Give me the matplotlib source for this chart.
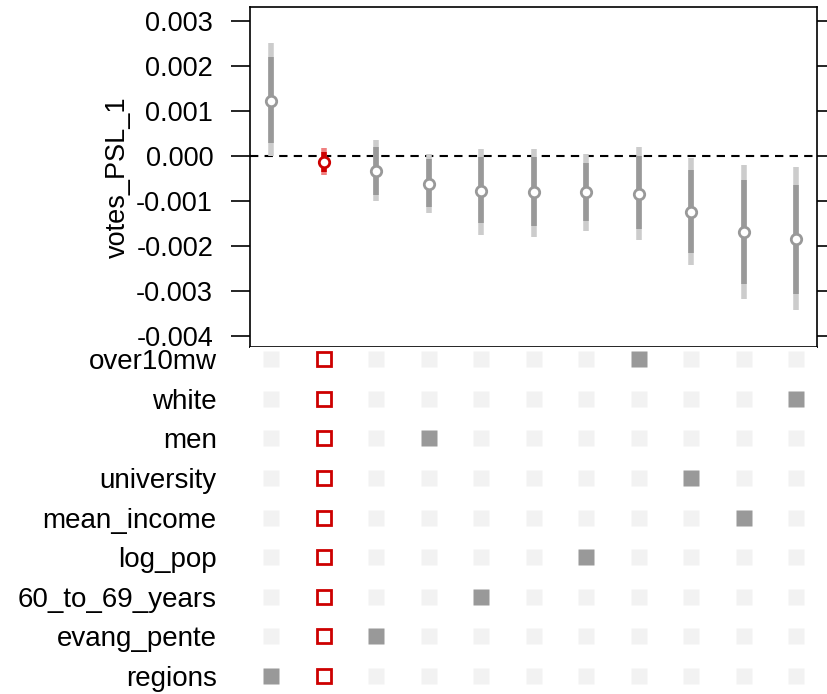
import numpy as np
import matplotlib
matplotlib.use("Agg")
import matplotlib.pyplot as plt

plt.rcParams['font.family'] = ['Liberation Sans', 'DejaVu Sans']

# --- data (values in units of 1e-3) ---
estimate = [1.235, -0.133, -0.327, -0.61, -0.77, -0.81, -0.81, -0.85, -1.25, -1.70, -1.84]
inner_hi = [2.20, 0.10, 0.21, -0.06, -0.01, -0.01, -0.16, 0.01, -0.32, -0.53, -0.64]
inner_lo = [0.29, -0.36, -0.86, -1.13, -1.49, -1.56, -1.45, -1.62, -2.16, -2.84, -3.06]
outer_hi = [2.51, 0.18, 0.36, 0.04, 0.16, 0.16, 0.04, 0.21, -0.04, -0.19, -0.24]
outer_lo = [0.01, -0.42, -0.99, -1.27, -1.75, -1.79, -1.66, -1.86, -2.43, -3.19, -3.43]

controls = ["regions", "evang_pente", "60_to_69_years", "log_pop", "mean_income",
            "university", "men", "white", "over10mw"]
spec_control = ["regions", "all", "evang_pente", "men", "60_to_69_years", "",
                "log_pop", "over10mw", "university", "mean_income", "white"]
highlight = 1  # index of the spec with all controls

yticks = [0.003, 0.002, 0.001, 0.0, -0.001, -0.002, -0.003, -0.004]

# --- colours ---
gray_dark = "#999999"
gray_light = "#cccccc"
red = "#cd0000"
red_light = "#f08080"
cell_off = "#f2f2f2"

fig = plt.figure(figsize=(8.27, 6.94), dpi=100)
ax = fig.add_axes([250 / 827, 0.5, 567 / 827, 1 - 7 / 694 - 0.5])
ax2 = fig.add_axes([250 / 827, 0.0, 567 / 827, 0.5])

x = np.arange(1, len(estimate) + 1)
est = np.array(estimate) * 1e-3

ax.axhline(0, color="black", lw=1.5, ls=(0, (4, 3)), zorder=1)
for i, xi in enumerate(x):
    c_in, c_out = (red, red_light) if i == highlight else (gray_dark, gray_light)
    ax.vlines(xi, outer_lo[i] * 1e-3, outer_hi[i] * 1e-3, color=c_out, lw=4, zorder=2)
    ax.vlines(xi, inner_lo[i] * 1e-3, inner_hi[i] * 1e-3, color=c_in, lw=4, zorder=3)
    ax.plot(xi, est[i], "o", ms=7.5, mfc="white", mec=c_in, mew=2, zorder=4)

ax.set_xlim(0.6, 11.4)
ax.set_ylim(-0.00425, 0.00332)
ax.set_xticks([])
ax.set_yticks(yticks)
ax.set_yticklabels([f"{v:.3f}" for v in yticks])
ax.tick_params(axis="y", which="both", direction="out", length=13.5, width=1.2,
               labelsize=19.5, pad=13, right=True)
ax.set_ylabel("votes_PSL_1", fontsize=19.5, labelpad=4)
for s in ax.spines.values():
    s.set_linewidth(1.2)

# --- specification grid ---
rows = np.arange(len(controls))
for j, xi in enumerate(x):
    for r, name in enumerate(controls):
        if j == highlight:
            ax2.plot(xi, r, "s", ms=9.5, mfc="white", mec=red, mew=2)
        elif spec_control[j] == name:
            ax2.plot(xi, r, "s", ms=11, mfc=gray_dark, mec="none")
        else:
            ax2.plot(xi, r, "s", ms=11, mfc=cell_off, mec="none")

ax2.set_xlim(0.6, 11.4)
ax2.set_ylim(-18 / 39.625, 8 + 12 / 39.625)
ax2.set_xticks([])
ax2.set_yticks(rows)
ax2.set_yticklabels(controls)
ax2.tick_params(axis="y", length=0, labelsize=20, pad=24)
for s in ax2.spines.values():
    s.set_visible(False)

fig.savefig("out.png", dpi=100)
